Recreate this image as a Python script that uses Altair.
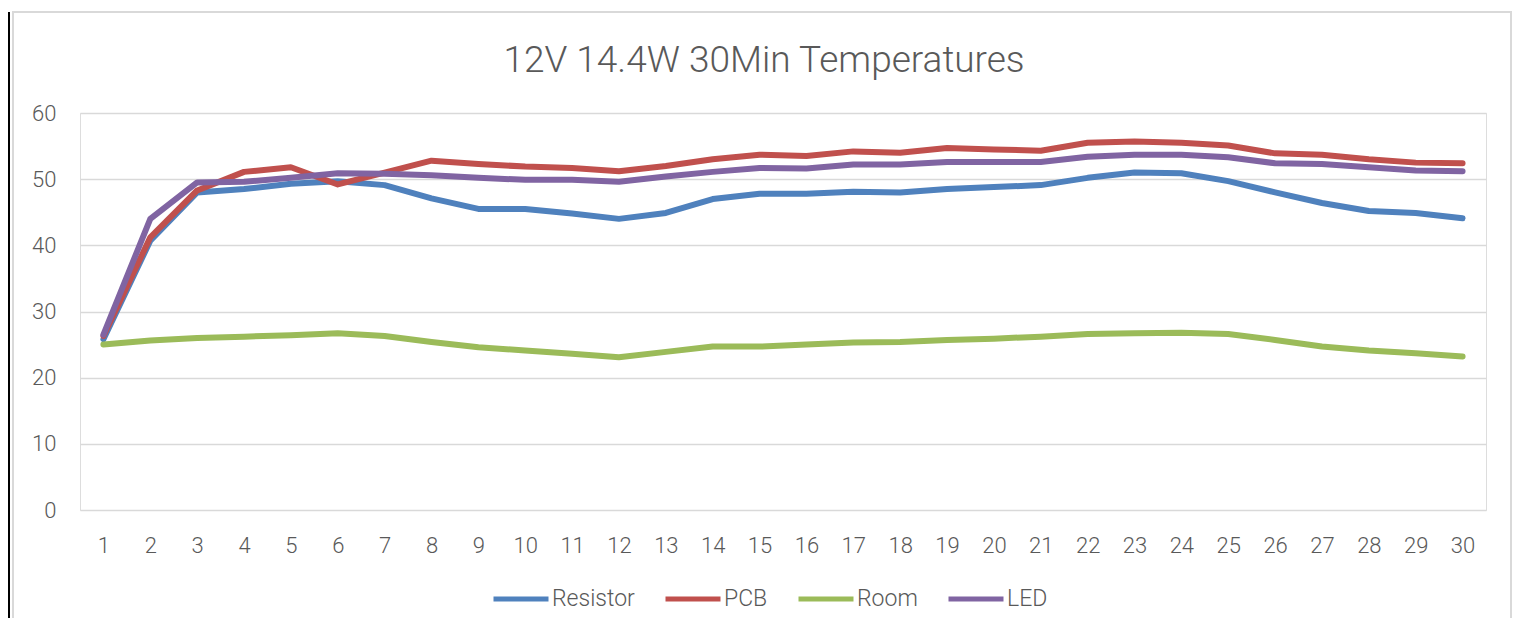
import altair as alt
import pandas as pd

minutes = list(range(1, 31))
series = ["Resistor", "PCB", "Room", "LED"]
colors = ["#4F81BD", "#C0504D", "#9BBB59", "#8064A2"]

resistor = [25.8, 40.7, 48.0, 48.5, 49.3, 49.7, 49.1, 47.1, 45.5, 45.5,
            44.8, 44.0, 44.9, 47.0, 47.8, 47.8, 48.1, 48.0, 48.5, 48.8,
            49.1, 50.2, 51.0, 50.9, 49.7, 48.0, 46.4, 45.2, 44.9, 44.1]
pcb = [26.3, 41.2, 48.3, 51.1, 51.8, 49.2, 51.0, 52.8, 52.3, 51.9,
       51.7, 51.2, 52.0, 53.0, 53.7, 53.5, 54.2, 54.0, 54.7, 54.5,
       54.3, 55.5, 55.7, 55.5, 55.1, 53.9, 53.7, 53.0, 52.5, 52.4]
room = [25.0, 25.6, 26.0, 26.2, 26.4, 26.7, 26.3, 25.4, 24.6, 24.1,
        23.6, 23.1, 23.9, 24.7, 24.7, 25.0, 25.3, 25.4, 25.7, 25.9,
        26.2, 26.6, 26.7, 26.8, 26.6, 25.7, 24.7, 24.1, 23.7, 23.2]
led = [26.5, 44.0, 49.5, 49.6, 50.2, 50.9, 50.8, 50.6, 50.2, 49.9,
       49.9, 49.6, 50.4, 51.1, 51.7, 51.6, 52.2, 52.2, 52.6, 52.6,
       52.6, 53.4, 53.7, 53.7, 53.3, 52.4, 52.3, 51.8, 51.3, 51.2]
y_ticks = [0, 10, 20, 30, 40, 50, 60]

rows = []
for name, vals in zip(series, [resistor, pcb, room, led]):
    for m, v in zip(minutes, vals):
        rows.append({"Minute": m, "Series": name, "Temp": v})
df = pd.DataFrame(rows)

FONT = "Roboto"
TXT = "#595959"

lines = alt.Chart(df).mark_line(
    strokeWidth=6, strokeCap="round", strokeJoin="round"
).encode(
    x=alt.X("Minute:O", sort=minutes,
            scale=alt.Scale(type="point", padding=0.5),
            axis=alt.Axis(title=None, labelAngle=0, labelFontSize=22,
                          labelColor=TXT, labelFont=FONT, labelFontWeight=300,
                          labelPadding=25, ticks=False, domain=False, grid=False)),
    y=alt.Y("Temp:Q", scale=alt.Scale(domain=[0, 60], nice=False),
            axis=alt.Axis(title=None, values=y_ticks, labelFontSize=22,
                          labelColor=TXT, labelFont=FONT, labelFontWeight=300,
                          labelPadding=24, ticks=False, domain=False, grid=True,
                          gridColor="#d9d9d9", gridWidth=1.3)),
    color=alt.Color("Series:N", sort=series,
                    scale=alt.Scale(domain=series, range=colors),
                    legend=alt.Legend(title=None, orient="none", legendX=411, legendY=456,
                                      direction="horizontal", symbolType="stroke",
                                      symbolSize=3025, symbolStrokeWidth=5,
                                      labelFontSize=23, labelColor=TXT, labelFont=FONT,
                                      labelFontWeight=300, columnPadding=20, labelOffset=1)),
)

frame_df = pd.DataFrame({"k": [0]})
frame = alt.Chart(frame_df).mark_rect(fillOpacity=0, stroke="#d9d9d9", strokeWidth=2).encode(
    x=alt.value(-67), x2=alt.value(1431), y=alt.value(-101), y2=alt.value(530)
)
strip = alt.Chart(frame_df).mark_rect(fill="black").encode(
    x=alt.value(-74), x2=alt.value(-70), y=alt.value(-101), y2=alt.value(530)
)

chart = alt.layer(frame, strip, lines).properties(
    width=1406, height=397,
    padding={"left": 72, "top": 105, "right": 26, "bottom": 108},
    autosize=alt.AutoSizeParams(type="none"),
    title=alt.TitleParams("12V 14.4W 30Min Temperatures", fontSize=37, font=FONT,
                          fontWeight=300, color=TXT, anchor="middle", dx=-19,
                          baseline="alphabetic", offset=-98),
).configure_view(strokeWidth=0).configure(background="white")

chart.save("out.html", embed_options={"renderer": "svg", "actions": False})
